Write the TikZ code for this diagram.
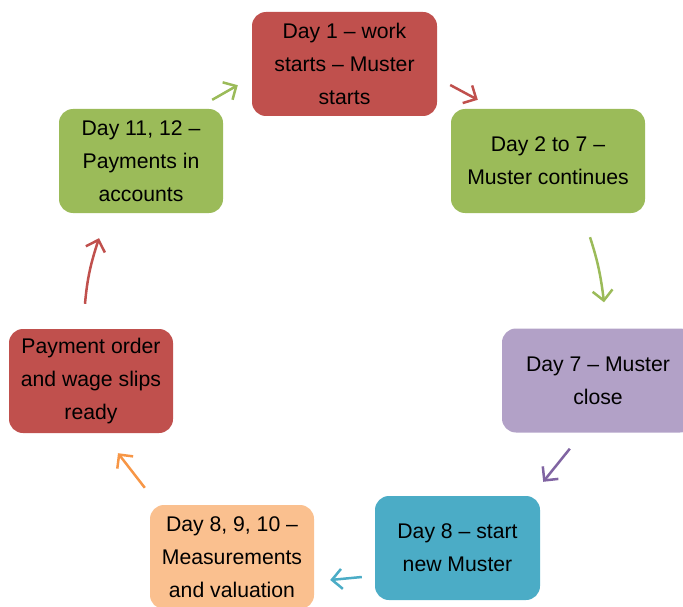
\documentclass[tikz,border=0pt]{standalone}
\usepackage{fontspec}
\setmainfont{Liberation Sans}
\usetikzlibrary{arrows.meta,calc}
\definecolor{dayred}{HTML}{C0504D}
\definecolor{daygreen}{HTML}{9BBB59}
\definecolor{daypurple}{HTML}{B2A1C7}
\definecolor{dayteal}{HTML}{4BACC6}
\definecolor{dayorange}{HTML}{FAC08F}
\definecolor{arrpurple}{HTML}{8064A2}
\definecolor{arrorange}{HTML}{F79646}
\begin{document}
\begin{tikzpicture}[x=1pt, y=1pt,
  daybox/.style={rounded corners=14pt, minimum height=104pt, align=center, inner sep=2pt, font={\fontsize{21.2}{33}\selectfont}},
  flow/.style={-{Straight Barb[length=10pt, width=20pt]}, line width=2.5pt, draw=#1}]
  \useasboundingbox (0,0) rectangle (683,-607);
  \clip (0,0) rectangle (683,-607);
  % Boxes round the cycle, clockwise from the top
  \node[daybox, fill=dayred, minimum width=185pt] (start) at (344.5,-64) {Day 1 -- work\\starts -- Muster\\starts};
  \node[daybox, fill=daygreen, minimum width=194pt] (muster) at (548,-161) {Day 2 to 7 --\\Muster continues};
  \node[daybox, fill=daypurple, minimum width=192pt] (close) at (598,-380.5) {Day 7 -- Muster\\close};
  \node[daybox, fill=dayteal, minimum width=165pt] (newmuster) at (457.5,-548) {Day 8 -- start\\new Muster};
  \node[daybox, fill=dayorange, minimum width=164pt] (measure) at (232,-557) {Day 8, 9, 10 --\\Measurements\\and valuation};
  \node[daybox, fill=dayred, minimum width=164pt] (payorder) at (91,-381) {Payment order\\and wage slips\\ready};
  \node[daybox, fill=daygreen, minimum width=164pt] (payment) at (141,-161) {Day 11, 12 --\\Payments in\\accounts};
  % Arrows between the boxes
  \draw[flow=daygreen] ($(payment.north east)+(-11,9)$) -- ($(start.south west)+(-14,31)$);
  \draw[flow=dayred] ($(start.east)+(13,-21)$) -- ($(muster.north west)+(27,9)$);
  \draw[flow=daygreen] ($(muster.south)+(42,-24)$) to[out=-72, in=97] ($(close.north)+(6,26)$);
  \draw[flow=arrpurple] ($(close.south west)+(68,-16)$) -- ($(newmuster.north east)+(3,14)$);
  \draw[flow=dayteal] ($(newmuster.west)+(-13,-29)$) -- ($(measure.east)+(16,-23)$);
  \draw[flow=arrorange] ($(measure.north west)+(-5,17)$) -- ($(payorder.south)+(27,-20)$);
  \draw[flow=dayred] ($(payorder.north)+(-6,25)$) to[out=85, in=-108] ($(payment.south)+(-42,-25)$);
\end{tikzpicture}
\end{document}
